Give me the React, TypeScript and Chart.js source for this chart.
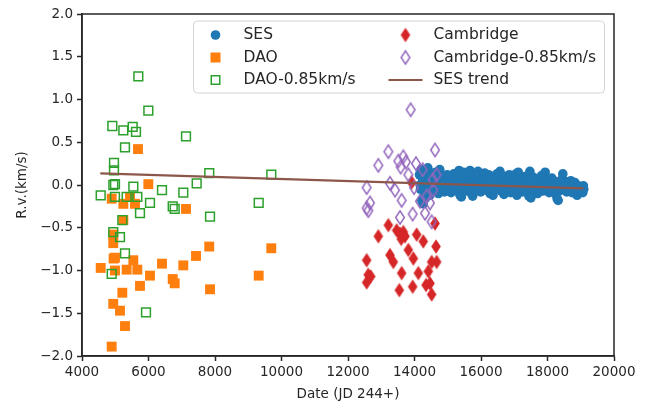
import { useEffect, useRef } from "react";
import { Chart, registerables } from "chart.js";

Chart.register(...registerables);

// ---------- data ----------
const sesX = [
  14150, 14180, 14200, 14220, 14250, 14260, 14280, 14300, 14320, 14340, 14360, 14380, 14400, 14420, 14440, 14460, 14480, 14500, 14520,
  14560, 14600, 14640, 14680, 14720, 14760, 14790, 14830, 14870, 14900, 14940, 14980, 15020, 15060, 15100, 15140, 15180, 15220, 15260,
  15300, 15340, 15370, 15410, 15440, 15480, 15520, 15560, 15600, 15640, 15670, 15710, 15750, 15790, 15830, 15870, 15910, 15950, 15990,
  16030, 16070, 16110, 16150, 16190, 16230, 16270, 16320, 16360, 16400, 16440, 16480, 16530, 16570, 16610, 16650, 16690, 16730, 16770,
  16810, 16850, 16890, 16930, 16970, 17010, 17050, 17080, 17120, 17160, 17200, 17240, 17280, 17320, 17360, 17400, 17440, 17470, 17500,
  17540, 17580, 17620, 17660, 17700, 17740, 17780, 17820, 17860, 17900, 17930, 17970, 18010, 18050, 18090, 18130, 18170, 18210, 18250,
  18290, 18320, 18360, 18400, 18440, 18460, 18500, 18540, 18580, 18620, 18660, 18700, 18740, 18780, 18820, 18860, 18890, 18930, 18970,
  19010, 19040, 19070, 19090,
  14170, 14240, 14310, 14390, 14450, 14540, 14580, 14620, 14660, 14700, 14740, 14810, 14850, 14890, 14920, 14960, 15000, 15040, 15080,
  15120, 15160, 15200, 15240, 15280, 15320, 15390, 15460, 15500, 15540, 15580, 15620, 15690, 15730, 15770, 15810, 15850, 15890, 15930,
  15970, 16010, 16050, 16090, 16130, 16170, 16210, 16250, 16290, 16340, 16380, 16420, 16460, 16500, 16550, 16590, 16630, 16670, 16710,
  16750, 16790, 16830, 16870, 16910, 16950, 16990, 17030, 17070, 17100, 17140, 17180, 17220, 17260, 17300, 17340, 17380, 17420, 17460,
  17520, 17560, 17600, 17640, 17680, 17720, 17760, 17800, 17840, 17880, 17920, 17950, 17990, 18030, 18070, 18110, 18150, 18190, 18230,
  18270, 18340, 18380, 18420, 18480, 18520, 18560, 18600, 18640, 18680, 18720, 18760, 18800, 18840, 18880, 18910, 18950, 18990, 19030,
  19060, 19080,
];
const sesY = [
  0.12, -0.05, 0.18, -0.18, 0.05, -0.22, 0.15, -0.1, 0.02, -0.15, 0.1, -0.02, 0.2, -0.08, 0.08, -0.12, 0.0, 0.14, -0.05,
  0.08, -0.06, 0.15, 0.02, -0.1, 0.18, 0.05, -0.04, 0.1, -0.08, 0.03, 0.12, -0.02, 0.07, -0.09, 0.05, 0.13, -0.05, 0.09,
  0.01, 0.17, -0.12, -0.14, 0.06, 0.15, -0.03, 0.1, -0.07, 0.04, 0.17, -0.1, -0.13, 0.08, 0.13, -0.04, 0.16, 0.02, -0.08,
  0.11, -0.01, 0.14, -0.06, 0.05, 0.12, -0.1, 0.03, -0.12, 0.08, -0.03, 0.13, 0.0, 0.16, -0.07, 0.06, -0.11, 0.1, 0.02,
  -0.05, 0.12, -0.09, 0.04, 0.08, -0.03, 0.13, -0.12, 0.15, -0.01, 0.07, -0.08, 0.03, 0.1, -0.05, 0.05, -0.13, 0.16, -0.15,
  0.02, 0.09, -0.06, 0.04, -0.1, 0.07, -0.02, 0.11, -0.07, 0.03, 0.15, -0.04, 0.06, -0.09, 0.01, 0.08, -0.05, 0.04, -0.11,
  -0.16, -0.18, 0.02, -0.06, 0.07, 0.13, -0.03, 0.04, -0.08, 0.01, -0.04, 0.05, -0.09, -0.02, 0.03, -0.07, -0.12, -0.01, -0.06,
  -0.03, -0.08, -0.02, -0.05,
  0.0, 0.08, -0.05, 0.05, -0.02, 0.03, -0.02, 0.05, -0.04, 0.06, -0.03, 0.07, -0.02, 0.04, -0.05, 0.06, -0.03, 0.04, 0.0,
  -0.04, 0.06, 0.02, -0.06, 0.05, -0.05, 0.04, -0.06, 0.07, -0.05, 0.03, -0.03, 0.06, -0.04, 0.03, -0.06, 0.05, -0.02, 0.07,
  -0.05, 0.03, -0.04, 0.06, -0.02, 0.04, -0.05, 0.06, -0.03, 0.05, -0.06, 0.03, -0.04, 0.06, -0.05, 0.04, -0.02, 0.05, -0.05,
  0.03, -0.03, 0.06, -0.04, 0.02, -0.06, 0.05, -0.02, 0.04, -0.06, 0.06, -0.04, 0.03, -0.05, 0.05, -0.02, 0.04, -0.06, 0.05,
  -0.04, 0.03, -0.05, 0.05, -0.03, 0.02, -0.06, 0.04, -0.04, 0.05, -0.06, 0.02, -0.03, 0.04, -0.05, 0.02, -0.04, 0.05, -0.06,
  0.0, -0.07, 0.03, -0.04, 0.02, -0.05, 0.03, -0.06, 0.02, -0.07, 0.0, -0.05, 0.02, -0.04, -0.03, -0.08, -0.02, -0.07, -0.04,
  -0.09, -0.01,
];

const daoX = [
  5684, 5995, 4893, 5243, 5594, 5444, 7128, 5243, 4940, 4940, 7827, 4992, 4950, 5544, 7429, 6406, 7047, 4562, 4992, 5343,
  5664, 6045, 6728, 6788, 5744, 7850, 5213, 4940, 5143, 5293, 4893, 9693, 9314,
];
const daoY = [
  0.42, 0.01, -0.16, -0.22, -0.22, -0.14, -0.28, -0.41, -0.58, -0.68, -0.72, -0.85, -0.86, -0.88, -0.83, -0.92, -0.94, -0.97, -1.0, -0.99,
  -0.99, -1.06, -1.1, -1.15, -1.18, -1.22, -1.26, -1.39, -1.47, -1.65, -1.89, -0.74, -1.06,
];

const daoShiftX = [
  5694, 5995, 4912, 5243, 5524, 5624, 7128, 5293, 4962, 4962, 7827, 4992, 4942, 5544, 7449, 6406, 7047, 4562, 4992, 5343,
  5664, 6045, 6728, 6788, 5744, 7850, 5213, 4940, 5143, 5293, 4893, 5925, 9693, 9314,
];
const daoShiftY = [
  1.27, 0.87, 0.69, 0.64, 0.68, 0.62, 0.57, 0.44, 0.26, 0.17, 0.14, 0.01, 0.0, -0.02, 0.02, -0.06, -0.09, -0.12, -0.14, -0.14,
  -0.14, -0.21, -0.25, -0.28, -0.33, -0.37, -0.41, -0.55, -0.61, -0.8, -1.04, -1.49, 0.12, -0.21,
];

const camX = [
  12562, 12609, 12562, 12683, 12912, 13213, 13263, 13363, 13564, 13664, 13714, 13814, 13965, 13614, 13544, 13945, 14065, 14265,
  14115, 14416, 14346, 14516, 14516, 14647, 14667, 14617, 13915, 14466, 13464, 13600,
];
const camY = [
  -0.88, -1.05, -1.14, -1.07, -0.6, -0.47, -0.82, -0.9, -0.57, -0.55, -0.6, -0.76, -0.86, -1.03, -1.23, -1.19, -0.58, -0.66,
  -1.03, -1.01, -1.17, -1.28, -0.9, -0.72, -0.9, -0.45, 0.03, -1.15, -0.53, -0.63,
];

const camShiftX = [
  13885, 13213, 12912, 13514, 13664, 13744, 13584, 14045, 14246, 14617, 14667, 13263, 13414, 12562, 12662, 12562, 12612, 13614,
  13945, 13564, 13814, 13985, 14165, 14366, 14466, 14316, 14516, 14566, 14546,
];
const camShiftY = [
  0.88, 0.39, 0.23, 0.28, 0.33, 0.27, 0.21, 0.25, 0.18, 0.41, 0.12, 0.02, -0.06, -0.03, -0.21, -0.27, -0.3, -0.18,
  -0.34, -0.38, 0.12, -0.03, -0.19, -0.13, -0.21, -0.33, -0.43, -0.06, 0.06,
];

const trendX = [4550, 19080];
const trendY = [0.135, -0.04];

const xTicks = [4000, 6000, 8000, 10000, 12000, 14000, 16000, 18000, 20000];
const yTicks = [-2.0, -1.5, -1.0, -0.5, 0.0, 0.5, 1.0, 1.5, 2.0];

const labels = ["SES", "DAO", "DAO-0.85km/s", "Cambridge", "Cambridge-0.85km/s", "SES trend"];

const C_BLUE = "#1f77b4";
const C_ORANGE = "#ff7f0e";
const C_GREEN = "#2ca02c";
const C_RED = "#d62728";
const C_PURPLE = "#9467bd";
const C_BROWN = "#8c564b";
const FONT = "'DejaVu Sans', sans-serif";
const INK = "#262626";

function pts(xs: number[], ys: number[]) {
  return xs.map((x, i) => ({ x, y: ys[i] }));
}

function makeDiamond(color: string, filled: boolean): HTMLCanvasElement {
  const c = document.createElement("canvas");
  c.width = 12;
  c.height = 17;
  const ctx = c.getContext("2d")!;
  const cx = 6, cy = 8.5, hw = filled ? 4.8 : 4.3, hh = filled ? 7.3 : 6.7;
  ctx.beginPath();
  ctx.moveTo(cx, cy - hh);
  ctx.lineTo(cx + hw, cy);
  ctx.lineTo(cx, cy + hh);
  ctx.lineTo(cx - hw, cy);
  ctx.closePath();
  if (filled) {
    ctx.fillStyle = color;
    ctx.fill();
  } else {
    ctx.strokeStyle = color;
    ctx.lineWidth = 1.5;
    ctx.stroke();
  }
  return c;
}

export default function App() {
  const ref = useRef<HTMLCanvasElement | null>(null);

  useEffect(() => {
    document.body.style.margin = "0";
    const canvas = ref.current!;
    const redD = makeDiamond(C_RED, true);
    const purD = makeDiamond(C_PURPLE, false);

    const framePlugin = {
      id: "frameAndLegend",
      afterDraw(chart: any) {
        const { ctx, chartArea: a } = chart;
        ctx.save();
        ctx.strokeStyle = INK;
        ctx.lineWidth = 1.5;
        ctx.strokeRect(a.left, a.top, a.right - a.left, a.bottom - a.top);

        // legend
        const bx = a.left + 111.5, by = a.top + 7, bw = 411, bh = 72;
        const r = 4;
        ctx.beginPath();
        ctx.moveTo(bx + r, by);
        ctx.lineTo(bx + bw - r, by);
        ctx.quadraticCurveTo(bx + bw, by, bx + bw, by + r);
        ctx.lineTo(bx + bw, by + bh - r);
        ctx.quadraticCurveTo(bx + bw, by + bh, bx + bw - r, by + bh);
        ctx.lineTo(bx + r, by + bh);
        ctx.quadraticCurveTo(bx, by + bh, bx, by + bh - r);
        ctx.lineTo(bx, by + r);
        ctx.quadraticCurveTo(bx, by, bx + r, by);
        ctx.closePath();
        ctx.fillStyle = "rgba(255,255,255,0.8)";
        ctx.fill();
        ctx.strokeStyle = "#d4d4d4";
        ctx.lineWidth = 1;
        ctx.stroke();

        const rows = [by + 14, by + 36.5, by + 59];
        const m1 = bx + 22, t1 = bx + 50;
        const m2 = bx + 212, t2 = bx + 240;
        ctx.beginPath();
        ctx.arc(m1, rows[0], 4.8, 0, Math.PI * 2);
        ctx.fillStyle = C_BLUE;
        ctx.fill();
        ctx.fillStyle = C_ORANGE;
        ctx.fillRect(m1 - 5, rows[1] - 5, 10, 10);
        ctx.strokeStyle = C_GREEN;
        ctx.lineWidth = 1.5;
        ctx.strokeRect(m1 - 4.25, rows[2] - 4.25, 8.5, 8.5);
        ctx.drawImage(redD, m2 - 6, rows[0] - 8.5);
        ctx.drawImage(purD, m2 - 6, rows[1] - 8.5);
        ctx.beginPath();
        ctx.moveTo(m2 - 17, rows[2]);
        ctx.lineTo(m2 + 17, rows[2]);
        ctx.strokeStyle = C_BROWN;
        ctx.lineWidth = 2.2;
        ctx.stroke();

        ctx.fillStyle = INK;
        ctx.font = `15.5px ${FONT}`;
        ctx.textBaseline = "middle";
        ctx.textAlign = "left";
        ctx.fillText(labels[0], t1, rows[0]);
        ctx.fillText(labels[1], t1, rows[1]);
        ctx.fillText(labels[2], t1, rows[2]);
        ctx.fillText(labels[3], t2, rows[0]);
        ctx.fillText(labels[4], t2, rows[1]);
        ctx.fillText(labels[5], t2, rows[2]);
        ctx.restore();
      },
    };

    const chart = new Chart(canvas, {
      type: "scatter",
      data: {
        datasets: [
          {
            label: labels[0],
            data: pts(sesX, sesY),
            pointStyle: "circle",
            pointRadius: 4.8,
            backgroundColor: C_BLUE,
            borderWidth: 0,
            order: 6,
          },
          {
            label: labels[1],
            data: pts(daoX, daoY),
            pointStyle: "rect",
            pointRadius: 7,
            backgroundColor: C_ORANGE,
            borderWidth: 0,
            order: 5,
          },
          {
            label: labels[2],
            data: pts(daoShiftX, daoShiftY),
            pointStyle: "rect",
            pointRadius: 6.2,
            backgroundColor: "rgba(0,0,0,0)",
            borderColor: C_GREEN,
            borderWidth: 1.5,
            order: 4,
          },
          {
            label: labels[3],
            data: pts(camX, camY),
            pointStyle: redD,
            pointRadius: 6,
            backgroundColor: C_RED,
            order: 3,
          },
          {
            label: labels[4],
            data: pts(camShiftX, camShiftY),
            pointStyle: purD,
            pointRadius: 6,
            backgroundColor: C_PURPLE,
            order: 2,
          },
          {
            type: "line",
            label: labels[5],
            data: pts(trendX, trendY),
            showLine: true,
            pointRadius: 0,
            borderColor: C_BROWN,
            borderWidth: 2.2,
            fill: false,
            order: 1,
          } as any,
        ],
      },
      options: {
        animation: false,
        responsive: false,
        devicePixelRatio: 1,
        events: [],
        layout: { padding: { left: 0, right: 37, top: 14, bottom: 0 } },
        plugins: { legend: { display: false }, tooltip: { enabled: false } },
        scales: {
          x: {
            type: "linear",
            min: 4000,
            max: 20000,
            afterFit: (s: any) => {
              s.height = 51;
            },
            afterBuildTicks: (s: any) => {
              s.ticks = xTicks.map((v) => ({ value: v }));
            },
            ticks: {
              color: INK,
              font: { family: FONT, size: 13.5 },
              padding: 3,
              maxRotation: 0,
              callback: (v: any) => String(v),
            },
            grid: { drawOnChartArea: false, drawTicks: true, tickLength: 5, tickWidth: 1.5, tickColor: INK },
            border: { display: true, color: INK, width: 1.5 },
            title: {
              display: true,
              text: "Date (JD 244+)",
              color: INK,
              font: { family: FONT, size: 13.5 },
              padding: { top: 0, bottom: 4 },
            },
          },
          y: {
            type: "linear",
            min: -2,
            max: 2,
            afterFit: (s: any) => {
              s.width = 82;
            },
            afterBuildTicks: (s: any) => {
              s.ticks = yTicks.map((v) => ({ value: v }));
            },
            ticks: {
              color: INK,
              font: { family: FONT, size: 13.5 },
              padding: 4,
              callback: (v: any) => (v < 0 ? "\u2212" : "") + Math.abs(v).toFixed(1),
            },
            grid: { drawOnChartArea: false, drawTicks: true, tickLength: 5, tickWidth: 1.5, tickColor: INK },
            border: { display: true, color: INK, width: 1.5 },
            title: {
              display: true,
              text: "R.v.(km/s)",
              color: INK,
              font: { family: FONT, size: 13.5 },
              padding: { top: 14, bottom: 0 },
            },
          },
        },
      },
      plugins: [framePlugin],
    } as any);

    return () => chart.destroy();
  }, []);

  return (
    <div style={{ width: 651, height: 407 }}>
      <canvas ref={ref} width={651} height={407} style={{ display: "block" }} />
    </div>
  );
}
